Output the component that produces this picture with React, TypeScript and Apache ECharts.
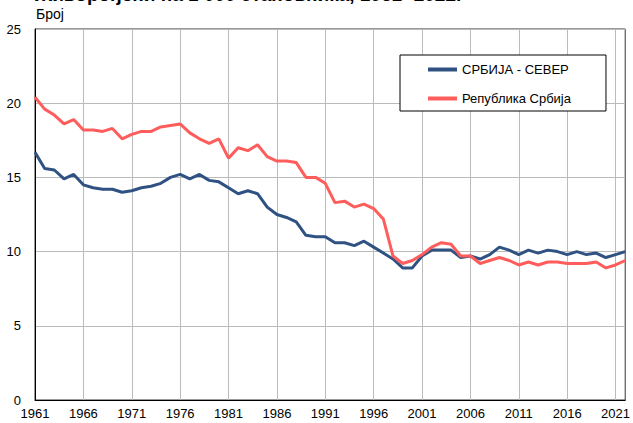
import React, { useEffect, useRef } from "react";
import * as echarts from "echarts";

const years: string[] = [];
for (let y = 1961; y <= 2022; y++) years.push(String(y));

const seriesNames = ["СРБИЈА - СЕВЕР", "Република Србија"];

const sever = [
  16.7, 15.6, 15.5, 14.9, 15.2, 14.5, 14.3, 14.2, 14.2, 14.0,
  14.1, 14.3, 14.4, 14.6, 15.0, 15.2, 14.9, 15.2, 14.8, 14.7,
  14.3, 13.9, 14.1, 13.9, 13.0, 12.5, 12.3, 12.0, 11.1, 11.0,
  11.0, 10.6, 10.6, 10.4, 10.7, 10.3, 9.9, 9.5, 8.9, 8.9,
  9.7, 10.1, 10.1, 10.1, 9.6, 9.7, 9.5, 9.8, 10.3, 10.1,
  9.8, 10.1, 9.9, 10.1, 10.0, 9.8, 10.0, 9.8, 9.9, 9.6,
  9.8, 10.0,
];

const srbija = [
  20.4, 19.6, 19.2, 18.6, 18.9, 18.2, 18.2, 18.1, 18.3, 17.6,
  17.9, 18.1, 18.1, 18.4, 18.5, 18.6, 18.0, 17.6, 17.3, 17.6,
  16.3, 17.0, 16.8, 17.2, 16.4, 16.1, 16.1, 16.0, 15.0, 15.0,
  14.6, 13.3, 13.4, 13.0, 13.2, 12.9, 12.2, 9.7, 9.2, 9.4,
  9.8, 10.3, 10.6, 10.5, 9.7, 9.7, 9.2, 9.4, 9.6, 9.4,
  9.1, 9.3, 9.1, 9.3, 9.3, 9.2, 9.2, 9.2, 9.3, 8.9,
  9.1, 9.4,
];

const titleText = "Живорођени на 1 000 становника, 1961- 2022.";
const unitText = "Број";

const FONT = "Arial, 'Liberation Sans', sans-serif";

export default function App() {
  const ref = useRef<HTMLDivElement>(null);
  useEffect(() => {
    if (!ref.current) return;
    const chart = echarts.init(ref.current, null, { renderer: "svg" });
    chart.setOption({
      animation: false,
      backgroundColor: "#ffffff",
      textStyle: { fontFamily: FONT },
      graphic: [
        {
          type: "text",
          left: 35,
          top: -15,
          style: {
            text: titleText,
            font: `bold 19px ${FONT}`,
            fill: "#000",
          },
        },
        {
          type: "text",
          left: 36,
          top: 7,
          style: {
            text: unitText,
            font: `14px ${FONT}`,
            fill: "#000",
          },
        },
      ],
      grid: {
        left: 35,
        right: 7,
        top: 29,
        bottom: 23,
        show: true,
        borderColor: "#333",
        borderWidth: 1,
        containLabel: false,
      },
      legend: {
        orient: "vertical",
        left: 400,
        top: 55,
        padding: [8, 35, 6, 28],
        itemGap: 16,
        itemWidth: 29,
        itemHeight: 4,
        icon: "rect",
        borderColor: "#000",
        borderWidth: 1,
        backgroundColor: "#fff",
        textStyle: { fontSize: 13, color: "#000", fontFamily: FONT },
        data: seriesNames,
      },
      xAxis: {
        type: "category",
        data: years,
        boundaryGap: false,
        axisLine: { show: true, lineStyle: { color: "#000", width: 1 } },
        axisTick: { show: false },
        axisLabel: {
          interval: 4,
          margin: 7,
          fontSize: 13,
          color: "#000",
          fontFamily: FONT,
        },
        splitLine: {
          show: true,
          interval: 4,
          lineStyle: { color: "#bbbbbb", width: 1 },
        },
      },
      yAxis: {
        type: "value",
        min: 0,
        max: 25,
        interval: 5,
        axisLine: { show: true, lineStyle: { color: "#000", width: 1 } },
        axisTick: { show: false },
        axisLabel: {
          margin: 14,
          fontSize: 13,
          color: "#000",
          fontFamily: FONT,
        },
        splitLine: { show: true, lineStyle: { color: "#bbbbbb", width: 1 } },
      },
      series: [
        {
          name: seriesNames[0],
          type: "line",
          data: sever,
          symbol: "none",
          lineStyle: { color: "#2f5283", width: 3 },
          itemStyle: { color: "#2f5283" },
        },
        {
          name: seriesNames[1],
          type: "line",
          data: srbija,
          symbol: "none",
          lineStyle: { color: "#ff5c5c", width: 3 },
          itemStyle: { color: "#ff5c5c" },
        },
      ],
    });
    return () => chart.dispose();
  }, []);
  return <div ref={ref} style={{ width: 633, height: 423, position: "absolute", left: 0, top: 0 }} />;
}
